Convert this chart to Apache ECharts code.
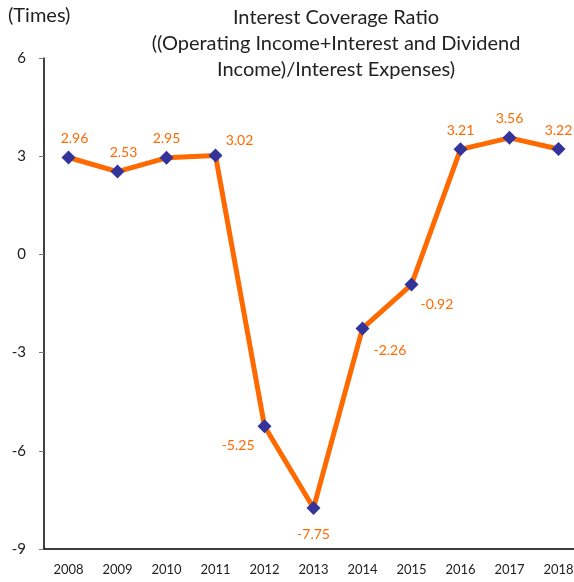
<!DOCTYPE html>
<html>
<head>
<meta charset="utf-8">
<script src="https://cdn.jsdelivr.net/npm/echarts@6/dist/echarts.min.js"></script>
<style>
  html, body { margin: 0; padding: 0; background: #fff; }
  #main { width: 574px; height: 582px; }
</style>
</head>
<body>
<div id="main"></div>
<script>
// data
const years = ['2008', '2009', '2010', '2011', '2012', '2013', '2014', '2015', '2016', '2017', '2018']
const ratio = [2.96, 2.53, 2.95, 3.02, -5.25, -7.75, -2.26, -0.92, 3.21, 3.56, 3.22]
const yTicks = [-9, 6, 3] // min, max, interval

const FONT = 'Lato'
const ORANGE = '#FF6A00'

// label placement per point (style only)
const labelStyle = [
  { position: 'top', distance: 5, offset: [6, 0] },
  { position: 'top', distance: 5, offset: [6, 0] },
  { position: 'top', distance: 5 },
  { position: 'top', offset: [24, 0], distance: 1 },
  { position: 'left', offset: [2, 19] },
  { position: 'bottom', distance: 12 },
  { position: 'right', offset: [-1, 22] },
  { position: 'right', offset: [-3, 20] },
  { position: 'top', distance: 5 },
  { position: 'top', distance: 5 },
  { position: 'top', distance: 5 }
]

const chart = echarts.init(document.getElementById('main'))
chart.setOption({
  animation: false,
  grid: { left: 44, top: 58, bottom: 33, right: -9, outerBoundsMode: 'none', containLabel: false },
  graphic: [
    {
      type: 'text', left: 8, top: 6,
      style: { text: '(Times)', font: '20px ' + FONT, fill: '#222' }
    },
    {
      type: 'text', x: 336, y: 5,
      style: {
        text: 'Interest Coverage Ratio\n((Operating Income+Interest and Dividend\nIncome)/Interest Expenses)',
        font: '20px ' + FONT, fill: '#222', align: 'center', lineHeight: 26
      }
    }
  ],
  xAxis: {
    type: 'category',
    data: years,
    boundaryGap: true,
    axisLine: { onZero: false, lineStyle: { color: '#000', width: 1.5 } },
    axisTick: { inside: true, length: 5, lineStyle: { color: '#777' } },
    axisLabel: { color: '#222', fontSize: 13, fontFamily: FONT, margin: 14 },
    splitLine: { show: false }
  },
  yAxis: {
    type: 'value',
    min: yTicks[0],
    max: yTicks[1],
    interval: yTicks[2],
    axisLine: { show: true, lineStyle: { color: '#000', width: 1.5 } },
    axisTick: { show: true, length: 5, lineStyle: { color: '#777' } },
    axisLabel: { color: '#222', fontSize: 15, fontFamily: FONT, margin: 18 },
    splitLine: { show: false }
  },
  series: [
    {
      type: 'line',
      data: ratio.map((v, i) => ({
        value: v,
        label: Object.assign({}, labelStyle[i])
      })),
      lineStyle: { color: ORANGE, width: 5 },
      symbol: 'diamond',
      symbolSize: 14,
      itemStyle: { color: '#333399' },
      label: {
        show: true,
        color: ORANGE,
        fontSize: 14,
        fontFamily: FONT,
        formatter: p => p.value.toFixed(2)
      },
      z: 3
    }
  ]
})
</script>
</body>
</html>
